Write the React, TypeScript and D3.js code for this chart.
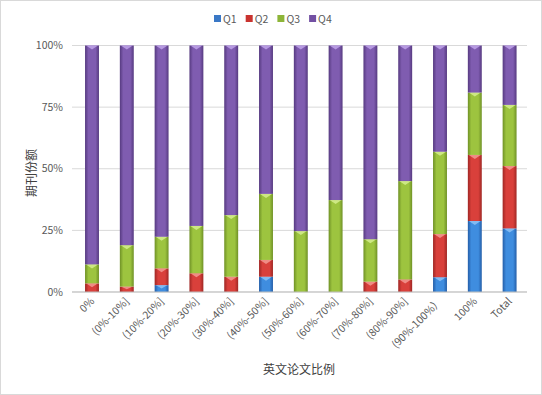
import React from "react";
import * as d3 from "d3";

const categories = ["0%", "(0%-10%]", "(10%-20%]", "(20%-30%]", "(30%-40%]", "(40%-50%]", "(50%-60%]", "(60%-70%]", "(70%-80%]", "(80%-90%]", "(90%-100%）", "100%", "Total"];
const q1 = [0, 0, 2.8, 0, 0, 6.2, 0, 0, 0, 0, 6.0, 28.8, 25.8];
const q2 = [3.5, 2.2, 6.8, 7.6, 6.2, 6.8, 0, 0, 4.2, 5.1, 17.5, 26.8, 25.3];
const q3 = [7.7, 16.8, 12.8, 19.2, 25.0, 26.8, 24.7, 37.3, 17.2, 39.9, 33.4, 25.3, 24.8];
const q4 = [88.8, 81.0, 77.6, 73.2, 68.8, 60.2, 75.3, 62.7, 78.6, 55.0, 43.1, 19.1, 24.1];
const seriesNames = ["Q1", "Q2", "Q3", "Q4"];
const yTicks = [0, 0.25, 0.5, 0.75, 1];

const palette = [
  { mid: "#3f8ddf", edge: "#245ea8", top: "#8fc2f5", legend: "#3a78c6" },
  { mid: "#d9403b", edge: "#9f2724", top: "#f29a93", legend: "#c9332f" },
  { mid: "#9dc43f", edge: "#6f9126", top: "#d6ef8f", legend: "#8db538" },
  { mid: "#7f5cb0", edge: "#563a80", top: "#c0a3ea", legend: "#7350a3" },
];

const font = "'Noto Sans CJK SC', 'Noto Sans', sans-serif";

export default function App() {
  const W = 542, H = 395;
  const x = d3.scaleBand<string>().domain(categories).range([74.6, 527]).paddingInner(0.6).paddingOuter(0.3);
  const y = d3.scaleLinear().domain([0, 1]).range([292, 45.5]);
  const rows = categories.map((c, i) => ({ cat: c, Q1: q1[i], Q2: q2[i], Q3: q3[i], Q4: q4[i] }));
  const stacked = d3.stack<any>().keys(seriesNames).offset(d3.stackOffsetExpand)(rows);
  const bw = x.bandwidth();

  return (
    <svg width={W} height={H} style={{ display: "block", position: "absolute", left: 0, top: 0 }} fontFamily={font}>
      <defs>
        {palette.map((p, i) => (
          <linearGradient key={i} id={`g${i}`} x1="0" x2="1" y1="0" y2="0">
            <stop offset="0" stopColor={p.edge} />
            <stop offset="0.25" stopColor={p.mid} />
            <stop offset="0.75" stopColor={p.mid} />
            <stop offset="1" stopColor={p.edge} />
          </linearGradient>
        ))}
      </defs>
      <rect x={0.5} y={0.5} width={W - 1} height={H - 1} fill="#fff" stroke="#d9d9d9" />
      {yTicks.map((t) => (
        <g key={t}>
          <line x1={72} x2={527} y1={y(t)} y2={y(t)} stroke="#d9d9d9" strokeWidth={1} />
          <text x={63} y={y(t)} dy="0.35em" textAnchor="end" fontSize={10.5} fill="#595959">
            {d3.format(".0%")(t)}
          </text>
        </g>
      ))}
      {stacked.map((s, si) => (
        <g key={s.key}>
          {s.map((d, i) => {
            if (d[1] - d[0] <= 0) return null;
            const x0 = x(categories[i])!;
            const yt = y(d[1]);
            const yb = y(d[0]);
            const th = Math.min(4, (yb - yt) / 2);
            return (
              <g key={i}>
                <rect x={x0} y={yt} width={bw} height={yb - yt} fill={`url(#g${si})`} />
                <path d={`M${x0 + 1},${yt} L${x0 + bw - 1},${yt} L${x0 + bw / 2},${yt + th} Z`} fill={palette[si].top} opacity={0.85} />
              </g>
            );
          })}
        </g>
      ))}
      <line x1={72} x2={527} y1={292} y2={292} stroke="#bfbfbf" />
      {categories.map((c) => {
        const cx = x(c)! + bw / 2 + 3;
        return (
          <text key={c} transform={`translate(${cx},302) rotate(-45)`} textAnchor="end" fontSize={10.5} fill="#595959">
            {c}
          </text>
        );
      })}
      <text x={299} y={374} textAnchor="middle" fontSize={12} fill="#404040">英文论文比例</text>
      <text transform="translate(36,173) rotate(-90)" textAnchor="middle" fontSize={12} fill="#404040">期刊份额</text>
      {seriesNames.map((n, i) => {
        const lx = 214 + i * 31.7;
        return (
          <g key={n}>
            <rect x={lx} y={15} width={7} height={7} fill={palette[i].legend} />
            <text x={lx + 9} y={19} dy="0.35em" fontSize={10.5} fill="#595959">{n}</text>
          </g>
        );
      })}
    </svg>
  );
}
